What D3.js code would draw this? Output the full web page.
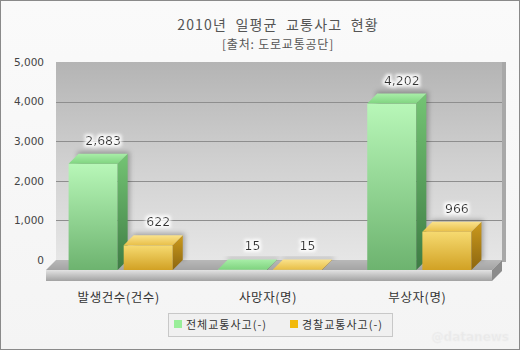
<!DOCTYPE html>
<html><head><meta charset="utf-8">
<script src="https://cdn.jsdelivr.net/npm/d3@7"></script>
<style>body{margin:0;background:#fff}svg{display:block}</style>
</head><body>
<script>
const categories = ["발생건수(건수)", "사망자(명)", "부상자(명)"];
const seriesNames = ["전체교통사고(-)", "경찰교통사고(-)"];
const totalAccidents = [2683, 15, 4202];
const policeAccidents = [622, 15, 966];
const yTicks = [0, 1000, 2000, 3000, 4000, 5000];
const title = "2010년 일평균 교통사고 현황";
const subtitle = "[출처: 도로교통공단]";

const W = 520, H = 350, D = 10;
const svg = d3.select("body").append("svg").attr("width", W).attr("height", H);
const defs = svg.append("defs");
function lin(id, stops, x2, y2) {
  const g = defs.append("linearGradient").attr("id", id).attr("x1", 0).attr("y1", 0).attr("x2", x2).attr("y2", y2);
  stops.forEach(s => g.append("stop").attr("offset", s[0]).attr("stop-color", s[1]));
}
lin("bg", [[0, "#fafafa"], [1, "#f4f4f4"]], 0, 1);
lin("wall", [[0, "#b4b4b4"], [0.5, "#d0d0d0"], [1, "#e6e6e6"]], 0, 1);
lin("floorTop", [[0, "#b8b8b8"], [1, "#a4a4a4"]], 0, 1);
lin("floorFront", [[0, "#e2e2e2"], [1, "#a2a2a2"]], 0, 1);
lin("gFront", [[0, "#b8f7b8"], [1, "#6db36f"]], 0, 1);
lin("gSide", [[0, "#74c474"], [1, "#3e7c44"]], 0, 1);
lin("gTop", [[0, "#a8eea8"], [1, "#80d480"]], 0, 1);
lin("oFront", [[0, "#f6da70"], [1, "#d1a124"]], 0, 1);
lin("oSide", [[0, "#cc9a1c"], [1, "#8c6610"]], 0, 1);
lin("oTop", [[0, "#fae28c"], [1, "#e8bf48"]], 0, 1);
const sh = defs.append("filter").attr("id", "shadow").attr("x", "-30%").attr("y", "-30%").attr("width", "160%").attr("height", "160%");
sh.append("feGaussianBlur").attr("stdDeviation", 2.5);
const glow = defs.append("filter").attr("id", "glow").attr("x", "-30%").attr("y", "-50%").attr("width", "160%").attr("height", "200%");
glow.append("feMorphology").attr("in", "SourceAlpha").attr("operator", "dilate").attr("radius", 1.5).attr("result", "d");
glow.append("feGaussianBlur").attr("in", "d").attr("stdDeviation", 1.5).attr("result", "b");
glow.append("feFlood").attr("flood-color", "#ffffff").attr("flood-opacity", 0.9);
glow.append("feComposite").attr("in2", "b").attr("operator", "in").attr("result", "w");
const gm = glow.append("feMerge"); gm.append("feMergeNode").attr("in", "w"); gm.append("feMergeNode").attr("in", "SourceGraphic");

svg.append("rect").attr("x", 0.5).attr("y", 0.5).attr("width", W - 1).attr("height", H - 1)
  .attr("fill", "url(#bg)").attr("stroke", "#8a8a8a");

const y = d3.scaleLinear().domain([0, 5000]).range([260, 62]);
const x0 = d3.scaleBand().domain(categories).range([46, 494]);
const x1 = d3.scaleBand().domain(seriesNames).range([0, x0.bandwidth()]).paddingInner(0.11).paddingOuter(0.41);
const wallL = 56, wallR = 502;

// wall
svg.append("rect").attr("x", wallR).attr("y", y(5000)).attr("width", 4).attr("height", y(0) - y(5000) + 2).attr("fill", "#a8a8a8");
svg.append("rect").attr("x", wallL).attr("y", y(5000)).attr("width", wallR - wallL).attr("height", y(0) - y(5000)).attr("fill", "url(#wall)");
svg.append("g").selectAll("line").data(yTicks.filter(t => t > 0 && t < 5000)).join("line")
  .attr("x1", wallL).attr("x2", wallR).attr("y1", d => Math.round(y(d)) + 0.5).attr("y2", d => Math.round(y(d)) + 0.5)
  .attr("stroke", "#8e8e8e");

// y axis labels
const yAxis = d3.axisLeft(y).tickValues(yTicks).tickSize(0).tickPadding(0).tickFormat(d3.format(","));
const ya = svg.append("g").attr("transform", "translate(44,0)").call(yAxis);
ya.select(".domain").remove();
ya.selectAll("text").attr("font-family", "DejaVu Sans, sans-serif").attr("font-size", 10.5).attr("fill", "#444");

// floor
const y0b = y(0), y0f = y(0) + D;
const fL = wallL - D, fR = wallR - D;
svg.append("polygon").attr("points", [[wallL, y0b], [wallR, y0b], [fR, y0f], [fL, y0f]].join(" ")).attr("fill", "url(#floorTop)");
svg.append("rect").attr("x", fL).attr("y", y0f).attr("width", fR - fL).attr("height", 11).attr("fill", "url(#floorFront)");
svg.append("polygon").attr("points", [[fR, y0f], [wallR, y0b], [wallR, y0b + 11], [fR, y0f + 11]].join(" ")).attr("fill", "#8c8c8c");

// bars
const data = [];
categories.forEach((c, i) => {
  data.push({ c, s: seriesNames[0], v: totalAccidents[i], k: "g" });
  data.push({ c, s: seriesNames[1], v: policeAccidents[i], k: "o" });
});
const w = x1.bandwidth();
const bars = svg.append("g").selectAll("g").data(data).join("g");
bars.append("polygon").attr("filter", "url(#shadow)").attr("fill", "rgba(0,0,0,0.28)")
  .attr("points", d => { const fx = x0(d.c) + x1(d.s); const yb = y(d.v);
    return [[fx + D - 1, yb - 2], [fx + w + D + 2, yb - 2], [fx + w + D + 2, y0b], [fx + D - 1, y0b]].join(" "); });
bars.append("rect").attr("x", d => x0(d.c) + x1(d.s)).attr("y", d => y(d.v) + D)
  .attr("width", w).attr("height", d => y0b - y(d.v)).attr("fill", d => `url(#${d.k}Front)`);
bars.append("polygon").attr("fill", d => `url(#${d.k}Side)`)
  .attr("points", d => { const fx = x0(d.c) + x1(d.s); const yb = y(d.v);
    return [[fx + w, yb + D], [fx + w + D, yb], [fx + w + D, y0b], [fx + w, y0f]].join(" "); });
bars.append("polygon").attr("fill", d => `url(#${d.k}Top)`)
  .attr("points", d => { const fx = x0(d.c) + x1(d.s); const yb = y(d.v);
    return [[fx, yb + D], [fx + D, yb], [fx + w + D, yb], [fx + w, yb + D]].join(" "); });
bars.append("text").attr("x", d => x0(d.c) + x1(d.s) + w / 2 + D).attr("y", d => y(d.v) - 9)
  .attr("text-anchor", "middle").attr("font-family", "DejaVu Sans, sans-serif").attr("font-size", 12.5)
  .attr("fill", "#333").attr("filter", "url(#glow)").text(d => d3.format(",")(d.v));

// category labels
svg.append("g").selectAll("text").data(categories).join("text")
  .attr("x", d => x0(d) + x0.bandwidth() / 2 - 2).attr("y", 302).attr("text-anchor", "middle")
  .attr("font-family", "Noto Sans CJK KR, sans-serif").attr("font-size", 12.5).attr("letter-spacing", 0.6)
  .attr("fill", "#333").text(d => d);

// titles
svg.append("text").attr("x", 278).attr("y", 30).attr("text-anchor", "middle")
  .attr("font-family", "Noto Sans CJK KR, sans-serif").attr("font-size", 14).attr("letter-spacing", 1.2)
  .attr("word-spacing", 4).attr("fill", "#555").text(title);
svg.append("text").attr("x", 278).attr("y", 49).attr("text-anchor", "middle")
  .attr("font-family", "Noto Sans CJK KR, sans-serif").attr("font-size", 12).attr("letter-spacing", 0.8)
  .attr("fill", "#555").text(subtitle);

// legend
const lg = svg.append("g");
lg.append("rect").attr("x", 168.5).attr("y", 313.5).attr("width", 224).attr("height", 23).attr("fill", "#f0f0f0").attr("stroke", "#c8c8c8");
const legendColors = ["#99ee99", "#f2b90c"];
const legendX = [174, 290];
seriesNames.forEach((s, i) => {
  lg.append("rect").attr("x", legendX[i]).attr("y", 320).attr("width", 8).attr("height", 8).attr("fill", legendColors[i]);
  lg.append("text").attr("x", legendX[i] + 12).attr("y", 328.5).attr("font-family", "Noto Sans CJK KR, sans-serif")
    .attr("font-size", 11).attr("letter-spacing", 1).attr("fill", "#333").text(s);
});

// watermark
svg.append("text").attr("x", 509).attr("y", 341).attr("text-anchor", "end").attr("font-family", "DejaVu Sans, sans-serif")
  .attr("font-size", 12).attr("font-weight", "bold").attr("fill", "#e9e9e9").attr("stroke", "#f0f0f0").attr("stroke-width", 0.5).text("@datanews");
</script>
</body></html>
